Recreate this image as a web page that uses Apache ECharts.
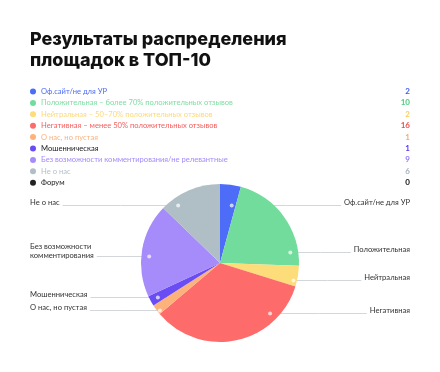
<!DOCTYPE html>
<html><head><meta charset="utf-8">
<script src="https://cdn.jsdelivr.net/npm/echarts@6/dist/echarts.min.js"></script>
<style>html,body{margin:0;padding:0;background:#fff}#c{width:440px;height:372px}</style>
</head><body><div id="c"></div>
<script>
const categories = [
  'Оф.сайт/не для УР',
  'Положительная – более 70% положительных отзывов',
  'Нейтральная – 50–70% положительных отзывов',
  'Негативная – менее 50% положительных отзывов',
  'О нас, но пустая',
  'Мошенническая',
  'Без возможности комментирования/не релевантные',
  'Не о нас',
  'Форум'
];
const sliceLabels = [
  'Оф.сайт/не для УР', 'Положительная', 'Нейтральная', 'Негативная',
  'О нас, но пустая', 'Мошенническая', 'Без возможности\nкомментирования', 'Не о нас', 'Форум'
];
const values = [2, 10, 2, 16, 1, 1, 9, 6, 0];

// styles
const colors = ['#4d6cf8', '#72dc9c', '#fddc7a', '#fe6b6b', '#fdb27c', '#6a4cf5', '#a68bfa', '#b0bec5', '#222222'];
const nameColors = ['#4d6cf8', '#7fdda3', '#fcd97a', '#f45d5d', '#fbb27e', '#222222', '#a68bfa', '#b3bfc6', '#222222'];
const valueColors = ['#3a5af0', '#4fcb7e', '#f8cf5a', '#ee4a4a', '#f9a86e', '#5638ee', '#9277f5', '#a5b2b9', '#111111'];
// layout: vertical level of each leader line
const leaderY = [205.5, 252.5, 280.5, 313.5, 310.5, 297.5, 256.5, 205.5, null];

const CX = 220, CY = 263, R = 79;
const total = values.reduce((a, b) => a + b, 0);
let acc = 0;
const sides = [];
const anchors = values.map((v, i) => {
  const a0 = acc / total * 360; acc += v; const a1 = acc / total * 360;
  sides.push((a0 + a1) / 2 < 180 ? 'right' : 'left');
  if (!v || leaderY[i] == null) return null;
  const y = leaderY[i], dy = y - CY;
  const rd = R * 0.9;
  let dx = Math.sqrt(Math.max(rd * rd - dy * dy, 0)) * (sides[i] === 'right' ? 1 : -1);
  let th = Math.atan2(dx, -dy) * 180 / Math.PI; if (th < 0) th += 360;
  const m = Math.min(4, (a1 - a0) * 0.25);
  const lo = a0 + m, hi = a1 - m;
  if (th < lo || th > hi) {
    th = Math.min(Math.max(th, lo), hi);
    const t = th * Math.PI / 180;
    const rr = -dy / Math.cos(t);
    dx = rr * Math.sin(t);
  }
  return [CX + dx, y];
});

const FS = 7.6;
const rich = {};
categories.forEach((c, i) => {
  rich['n' + i] = { width: 349, color: nameColors[i], fontSize: FS, fontFamily: 'Lato' };
  rich['v' + i] = { width: 20, align: 'right', color: valueColors[i], fontSize: FS + 0.4, fontWeight: 'bold', fontFamily: 'Lato' };
});

const chart = echarts.init(document.getElementById('c'), null, { renderer: 'canvas' });
chart.setOption({
  animation: false,
  title: {
    text: 'Результаты распределения\nплощадок в ТОП-10',
    left: 30, top: 29, padding: 0,
    textStyle: { fontFamily: 'Inter', fontSize: 18, fontWeight: 800, lineHeight: 21, color: '#111' }
  },
  legend: {
    orient: 'vertical', left: 30, top: 86, padding: 0,
    icon: 'circle', itemWidth: 6, itemHeight: 6, itemGap: 0.4, itemTextGap: 4,
    selectedMode: false,
    data: categories,
    formatter: name => {
      const i = categories.indexOf(name);
      return '{n' + i + '|' + name + '}{v' + i + '|' + values[i] + '}';
    },
    textStyle: { fontSize: FS, lineHeight: 11, fontFamily: 'Lato', rich }
  },
  color: colors,
  series: [{
    type: 'pie',
    center: [CX, CY], radius: R,
    startAngle: 90, clockwise: true,
    avoidLabelOverlap: false,
    data: categories.map((c, i) => ({
      name: c, value: values[i],
      label: { show: values[i] > 0 }, labelLine: { show: values[i] > 0 }
    })),
    label: {
      formatter: p => sliceLabels[p.dataIndex],
      color: '#333', fontFamily: 'Lato', fontSize: FS, lineHeight: 9
    },
    labelLine: { show: true, length: 5, length2: 5, smooth: false, lineStyle: { color: '#d3d7dc', width: 1 } },
    labelLayout: p => {
      const i = p.dataIndex, a = anchors[i];
      if (!a) return {};
      const w = p.labelRect.width, h = p.labelRect.height;
      const ly = a[1] - (h > 14 ? 5 : 2.5);
      if (sides[i] === 'right') {
        const endX = 410 - w - 3;
        return { x: 410, y: ly, align: 'right', verticalAlign: 'middle',
          labelLinePoints: [[a[0], a[1]], [(a[0] + endX) / 2, a[1]], [endX, a[1]]] };
      }
      const endX = 30 + w + 3;
      return { x: 30, y: ly, align: 'left', verticalAlign: 'middle',
        labelLinePoints: [[a[0], a[1]], [(a[0] + endX) / 2, a[1]], [endX, a[1]]] };
    },
    emphasis: { disabled: true }
  }],
  graphic: anchors.filter(Boolean).map(a => ({
    type: 'circle', shape: { cx: a[0], cy: a[1], r: 2 },
    style: { fill: 'rgba(255,255,255,0.7)' }, z: 100, silent: true
  }))
});
</script></body></html>
